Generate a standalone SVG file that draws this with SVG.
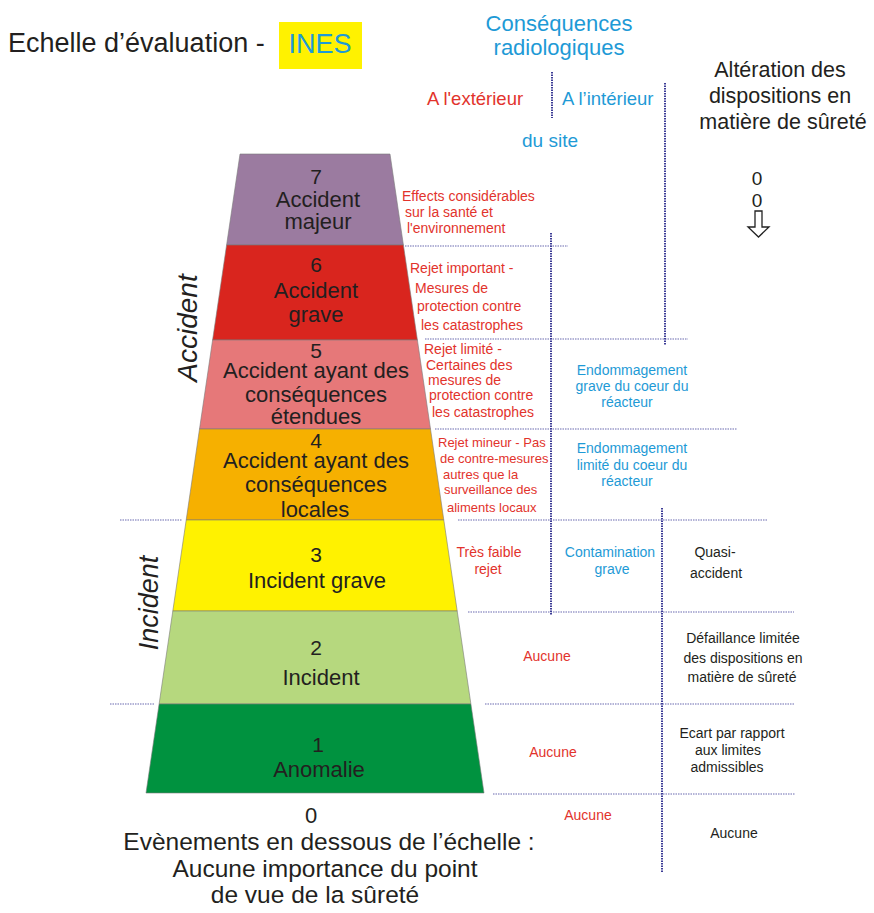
<svg xmlns="http://www.w3.org/2000/svg" width="874" height="913" viewBox="0 0 874 913">
<style>
text{font-family:"Liberation Sans",Arial,sans-serif}
.dk{fill:#231f20}
.rd{fill:#e2332c}
.bl{fill:#1e9ad6}
.lvl{font-size:22px;fill:#231f20;text-anchor:middle}
.num{font-size:21px;fill:#231f20;text-anchor:middle}
.sm{font-size:14px}
.s13{font-size:13px}
.mid{text-anchor:middle}
.band{stroke:#7a7a7a;stroke-width:0.6}
.hl{stroke:#6a6ab0;stroke-width:1.2;stroke-dasharray:1.5 1;fill:none}
.vl{stroke:#3c3c96;stroke-width:2;stroke-dasharray:1.5 1;fill:none}
</style>
<rect width="874" height="913" fill="#ffffff"/>

<g id="title">
<text x="8" y="52" class="dk" font-size="27">Echelle d’évaluation -</text>
<rect x="279" y="22" width="83" height="47" fill="#fff200"/>
<text x="320" y="53" class="bl mid" font-size="27">INES</text>
</g>

<g id="headers">
<text x="559" y="31" class="bl mid" font-size="22">Conséquences</text>
<text x="559" y="55" class="bl mid" font-size="22">radiologiques</text>
<text x="427" y="105" class="rd" font-size="18.5">A l'extérieur</text>
<text x="562" y="105" class="bl" font-size="18.5">A l’intérieur</text>
<text x="550" y="147" class="bl mid" font-size="19">du site</text>
<text x="780" y="77" class="dk mid" font-size="21.5">Altération des</text>
<text x="780" y="103" class="dk mid" font-size="21.5">dispositions en</text>
<text x="783" y="129" class="dk mid" font-size="21.5">matière de sûreté</text>
<text x="757" y="185" class="dk mid" font-size="19">0</text>
<text x="757" y="207" class="dk mid" font-size="19">0</text>
<path d="M755,211 H762 V227 H769 L758.5,237 L748,227 H755 Z" fill="#ffffff" stroke="#222222" stroke-width="1.3" stroke-linejoin="miter"/>
</g>

<g id="side-labels">
<text transform="translate(197,328) rotate(-90)" class="dk mid" font-size="28" font-style="italic">Accident</text>
<text transform="translate(158,603) rotate(-90)" class="dk mid" font-size="27" font-style="italic">Incident</text>
</g>

<g id="level7">
<polygon class="band" points="240,154 390,154 403.4,245 226.6,245" fill="#9b7ba0"/>
<text x="316" y="184" class="num">7</text>
<text x="318" y="207" class="lvl">Accident</text>
<text x="318" y="229" class="lvl">majeur</text>
</g>
<g id="level6">
<polygon class="band" points="226.6,245 403.4,245 417.4,340 212.6,340" fill="#d9251e"/>
<text x="316" y="272" class="num">6</text>
<text x="316" y="298" class="lvl">Accident</text>
<text x="316" y="322" class="lvl">grave</text>
</g>
<g id="level5">
<polygon class="band" points="212.6,340 417.4,340 430.5,429 199.5,429" fill="#e67879"/>
<text x="316" y="358" class="num">5</text>
<text x="316" y="378" class="lvl">Accident ayant des</text>
<text x="316" y="402" class="lvl">conséquences</text>
<text x="316" y="424" class="lvl">étendues</text>
</g>
<g id="level4">
<polygon class="band" points="199.5,429 430.5,429 443.8,520 186.2,520" fill="#f6b000"/>
<text x="316" y="448" class="num">4</text>
<text x="316" y="468" class="lvl">Accident ayant des</text>
<text x="316" y="492" class="lvl">conséquences</text>
<text x="315" y="517" class="lvl">locales</text>
</g>
<g id="level3">
<polygon class="band" points="186.2,520 443.8,520 457.2,611 172.8,611" fill="#fff200"/>
<text x="316" y="562" class="num">3</text>
<text x="317" y="588" class="lvl">Incident grave</text>
</g>
<g id="level2">
<polygon class="band" points="172.8,611 457.2,611 470.9,704 159.1,704" fill="#b6d87e"/>
<text x="316" y="655" class="num">2</text>
<text x="321" y="685" class="lvl">Incident</text>
</g>
<g id="level1">
<polygon class="band" points="159.1,704 470.9,704 484,793 146,793" fill="#00923f"/>
<text x="318" y="752" class="num">1</text>
<text x="319" y="777" class="lvl">Anomalie</text>
</g>
<g id="level0">
<text x="311" y="823" class="dk mid" font-size="22">0</text>
<text x="329" y="850" class="dk mid" font-size="24.5">Evènements en dessous de l’échelle :</text>
<text x="325" y="877" class="dk mid" font-size="24.5">Aucune importance du point</text>
<text x="315" y="903" class="dk mid" font-size="24.5">de vue de la sûreté</text>
</g>

<g id="connectors">
<line class="hl" x1="405" y1="246" x2="568" y2="246"/>
<line class="hl" x1="425" y1="339" x2="688" y2="339"/>
<line class="hl" x1="435" y1="429" x2="737" y2="429"/>
<line class="hl" x1="458" y1="520" x2="768" y2="520"/>
<line class="hl" x1="120" y1="520" x2="182" y2="520"/>
<line class="hl" x1="468" y1="612" x2="794" y2="612"/>
<line class="hl" x1="485" y1="704" x2="795" y2="704"/>
<line class="hl" x1="110" y1="704" x2="155" y2="704"/>
<line class="hl" x1="493" y1="794" x2="795" y2="794"/>
<line class="vl" x1="552" y1="72" x2="552" y2="118"/>
<line class="vl" x1="551" y1="233" x2="551" y2="615"/>
<line class="vl" x1="665" y1="83" x2="665" y2="345"/>
<line class="vl" x1="662" y1="508" x2="662" y2="872"/>
</g>

<g id="desc7">
<text x="402" y="201" class="rd sm">Effects considérables</text>
<text x="405" y="217" class="rd sm">sur la santé et</text>
<text x="407" y="233" class="rd sm">l'environnement</text>
</g>
<g id="desc6">
<text x="410" y="273" class="rd sm">Rejet important -</text>
<text x="415" y="293" class="rd sm">Mesures de</text>
<text x="417" y="311" class="rd sm">protection contre</text>
<text x="421" y="330" class="rd sm">les catastrophes</text>
</g>
<g id="desc5">
<text x="424" y="354" class="rd sm">Rejet limité -</text>
<text x="426" y="370" class="rd sm">Certaines des</text>
<text x="428" y="385" class="rd sm">mesures de</text>
<text x="429" y="400" class="rd sm">protection contre</text>
<text x="432" y="417" class="rd sm">les catastrophes</text>
<text x="632" y="375" class="bl sm mid">Endommagement</text>
<text x="632" y="391" class="bl sm mid">grave du coeur du</text>
<text x="627" y="407" class="bl sm mid">réacteur</text>
</g>
<g id="desc4">
<text x="438" y="447" class="rd s13">Rejet mineur - Pas</text>
<text x="440" y="463" class="rd s13">de contre-mesures</text>
<text x="443" y="479" class="rd s13">autres que la</text>
<text x="444" y="494" class="rd s13">surveillance des</text>
<text x="447" y="512" class="rd s13">aliments locaux</text>
<text x="632" y="453" class="bl sm mid">Endommagement</text>
<text x="632" y="470" class="bl sm mid">limité du coeur du</text>
<text x="627" y="486" class="bl sm mid">réacteur</text>
</g>
<g id="desc3">
<text x="489" y="557" class="rd sm mid">Très faible</text>
<text x="488" y="574" class="rd sm mid">rejet</text>
<text x="610" y="557" class="bl sm mid">Contamination</text>
<text x="612" y="574" class="bl sm mid">grave</text>
<text x="715" y="557" class="dk sm mid">Quasi-</text>
<text x="716" y="578" class="dk sm mid">accident</text>
</g>
<g id="desc2">
<text x="547" y="661" class="rd sm mid">Aucune</text>
<text x="743" y="643" class="dk sm mid">Défaillance limitée</text>
<text x="743" y="663" class="dk sm mid">des dispositions en</text>
<text x="742" y="682" class="dk sm mid">matière de sûreté</text>
</g>
<g id="desc1">
<text x="553" y="757" class="rd sm mid">Aucune</text>
<text x="732" y="738" class="dk sm mid">Ecart par rapport</text>
<text x="728" y="755" class="dk sm mid">aux limites</text>
<text x="727" y="772" class="dk sm mid">admissibles</text>
</g>
<g id="desc0">
<text x="588" y="820" class="rd sm mid">Aucune</text>
<text x="734" y="838" class="dk sm mid">Aucune</text>
</g>
</svg>
